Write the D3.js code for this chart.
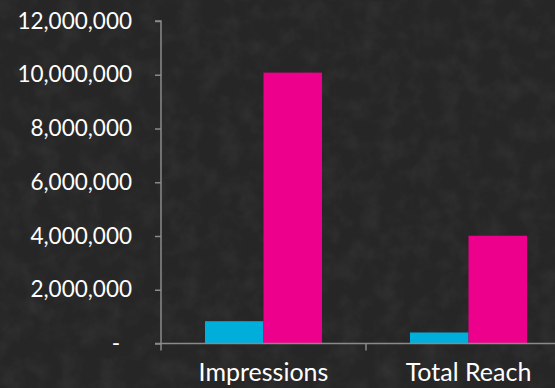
<!DOCTYPE html>
<html>
<head>
<meta charset="utf-8">
<script src="https://cdn.jsdelivr.net/npm/d3@7"></script>
<style>
html,body{margin:0;padding:0;background:#2a2a2a;overflow:hidden;}
svg{display:block;}
text{font-family:Lato, "Open Sans", sans-serif;fill:#ffffff;font-weight:400;}
</style>
</head>
<body>
<svg id="chart" width="555" height="388"></svg>
<script>
const categories = ["Impressions", "Total Reach"];
const seriesNames = ["Series A", "Series B"];
const seriesA = [830000, 410000];
const seriesB = [10080000, 4010000];
const yTicks = [0, 2000000, 4000000, 6000000, 8000000, 10000000, 12000000];
const colors = ["#00aedb", "#ec008c"];

const W = 555, H = 388;
const svg = d3.select("#chart");

// chalkboard texture background
const defs = svg.append("defs");
const f = defs.append("filter").attr("id", "tex").attr("x", 0).attr("y", 0).attr("width", "100%").attr("height", "100%");
f.append("feTurbulence").attr("type", "fractalNoise").attr("baseFrequency", 0.05).attr("numOctaves", 4).attr("seed", 4).attr("result", "n");
f.append("feColorMatrix").attr("type", "matrix")
  .attr("values", "0 0 0 0 1  0 0 0 0 1  0 0 0 0 1  0.9 0 0 0 -0.35").attr("in", "n");
svg.append("rect").attr("width", W).attr("height", H).attr("fill", "#262626");
svg.append("rect").attr("width", W).attr("height", H).attr("filter", "url(#tex)").attr("opacity", 0.1);

const x0 = 161, x1 = 571, yTop = 21, yBot = 343.5;
const x = d3.scaleBand().domain(categories).range([x0, x1]).paddingInner(0).paddingOuter(0);
const groupW = x.bandwidth() * 0.571;
const xs = d3.scaleBand().domain(seriesNames).range([0, groupW]).padding(0);
const y = d3.scaleLinear().domain([0, 12000000]).range([yBot, yTop]);

const axisColor = "#8a8a8a";

// bars
const series = [seriesA, seriesB];
series.forEach((vals, si) => {
  svg.append("g").selectAll("rect").data(categories).join("rect")
    .attr("x", c => x(c) + (x.bandwidth() - groupW) / 2 + xs(seriesNames[si]))
    .attr("y", (c, i) => y(vals[i]))
    .attr("width", xs.bandwidth())
    .attr("height", (c, i) => yBot - y(vals[i]))
    .attr("fill", colors[si]);
});

// y axis
const fmt = d3.format(",");
const yAxis = d3.axisLeft(y).tickValues(yTicks).tickSize(6).tickPadding(23)
  .tickFormat(d => d === 0 ? "-" : fmt(d));
const gy = svg.append("g").attr("transform", `translate(${x0},0)`).call(yAxis);
gy.select(".domain").attr("stroke", axisColor).attr("stroke-width", 1.5).attr("d", `M-6,${yTop}H0V${yBot}H-6`);
gy.selectAll(".tick line").attr("stroke", axisColor).attr("stroke-width", 1.5);
gy.selectAll(".tick text").attr("font-size", 22.5).attr("fill", "#fff")
  .style("font-family", "Lato, sans-serif").style("font-weight", 400)
  .attr("dx", d => d === 0 ? -12 : 0);

// x axis
const xAxisG = svg.append("g");
xAxisG.append("line").attr("x1", x0).attr("x2", W).attr("y1", yBot).attr("y2", yBot)
  .attr("stroke", axisColor).attr("stroke-width", 1.5);
const boundaries = categories.map(c => x(c));
xAxisG.selectAll("line.tk").data(boundaries).join("line").attr("class", "tk")
  .attr("x1", d => d).attr("x2", d => d).attr("y1", yBot).attr("y2", yBot + 7)
  .attr("stroke", axisColor).attr("stroke-width", 1.5);
xAxisG.selectAll("text").data(categories).join("text")
  .attr("x", c => x(c) + x.bandwidth() / 2)
  .attr("y", 381)
  .attr("text-anchor", "middle")
  .attr("font-size", 25)
  .text(c => c);
</script>
</body>
</html>
